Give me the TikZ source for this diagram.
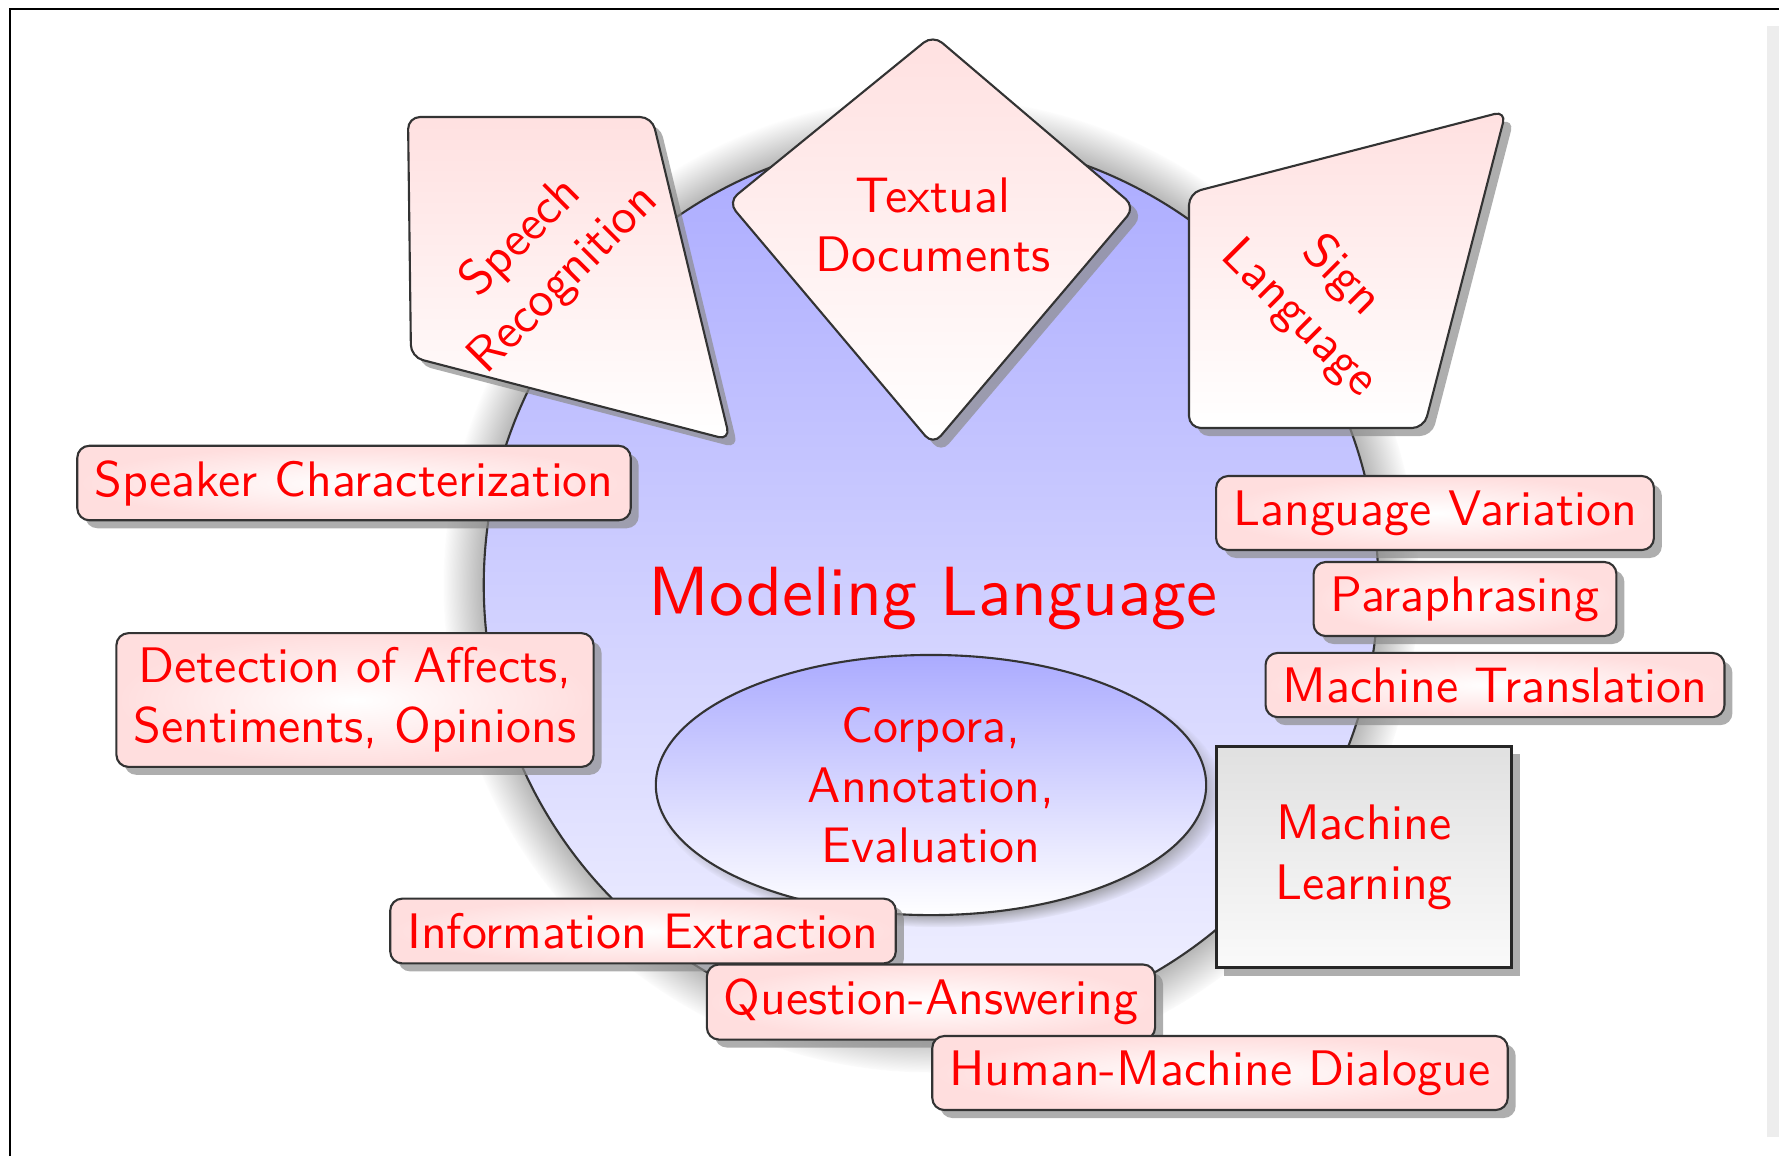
\documentclass[tikz,border=0pt]{standalone}
\usepackage{fontspec}
\setsansfont{lmsans10-regular.otf}
\usepackage{tikz}
\usetikzlibrary{shapes.geometric,shadows}
\tikzset{
  topic/.style={draw=black!80, line width=0.6pt, rounded corners=0.12cm, inner color=white, outer color=red!13, text=red, font=\sffamily\fontsize{14.2}{17}\selectfont, inner xsep=0.17cm, inner ysep=0.145cm, align=center, drop shadow={shadow xshift=0.08cm, shadow yshift=-0.08cm, fill=black!45, opacity=0.7}},
  facet/.style={draw=black!80, line width=0.6pt, rounded corners=0.12cm, top color=red!12, bottom color=white, drop shadow={shadow xshift=0.08cm, shadow yshift=-0.08cm, fill=black!45, opacity=0.7}},
  facettext/.style={text=red, font=\sffamily\fontsize{14.2}{17}\selectfont, align=center},
}
\begin{document}
\begin{tikzpicture}[x=0.01cm, y=-0.01cm]
\useasboundingbox (0,0) rectangle (1779,1156);
\draw[line width=0.7pt] (10,1156) -- (10,9) -- (1779,9);
\fill[black!7] (1767,26) rectangle (1779,1137);

\node[circle, draw=black!80, line width=0.6pt, minimum size=8.94cm, top color=blue!33, bottom color=blue!5, circular drop shadow={shadow xshift=0cm, shadow yshift=0cm, shadow scale=1.09}] (lang) at (931,585) {};
\node[text=red, font=\sffamily\fontsize{19.8}{24}\selectfont] (title) at (933,598) {Modeling Language};
\node[ellipse, draw=black!80, line width=0.6pt, minimum width=5.5cm, minimum height=2.6cm, inner sep=0pt, top color=blue!33, bottom color=white, text=red, font=\sffamily\fontsize{14.2}{17}\selectfont, align=center, circular drop shadow={shadow xshift=0.08cm, shadow yshift=-0.08cm, shadow scale=1.03}] (corpora) at (931,785) {Corpora,\\ Annotation,\\ Evaluation};

\path[facet] (408,117) -- (652,117) -- (730,440) -- (411,357) -- cycle;
\node[facettext, rotate=45] (speech) at (543,259) {Speech\\ Recognition};
\path[facet] (933,35) -- (1135,207) -- (933,445) -- (728,202) -- cycle;
\node[facettext] (textual) at (933,225) {Textual\\ Documents};
\path[facet] (1189,193) -- (1506,111) -- (1424,428) -- (1189,428) -- cycle;
\node[facettext, rotate=-45] (sign) at (1320,298) {Sign\\ Language};

\node[topic] (speaker) at (354,483) {Speaker Characterization};
\node[topic] (affects) at (355,700) {Detection of Affects,\\ Sentiments, Opinions};
\node[topic] (variation) at (1435,513) {Language Variation};
\node[topic] (para) at (1465,599) {Paraphrasing};
\node[topic] (mt) at (1495,685) {Machine Translation};
\node[draw=black!85, line width=0.7pt, top color=black!12, bottom color=black!2, minimum width=2.95cm, minimum height=2.21cm, text=red, font=\sffamily\fontsize{14.2}{17}\selectfont, align=center, drop shadow={shadow xshift=0.08cm, shadow yshift=-0.08cm, fill=black!45, opacity=0.7}] (ml) at (1364,857) {Machine\\ Learning};
\node[topic] (ie) at (643,931) {Information Extraction};
\node[topic] (qa) at (931,1002) {Question-Answering};
\node[topic] (hmd) at (1220,1073) {Human-Machine Dialogue};
\end{tikzpicture}
\end{document}
